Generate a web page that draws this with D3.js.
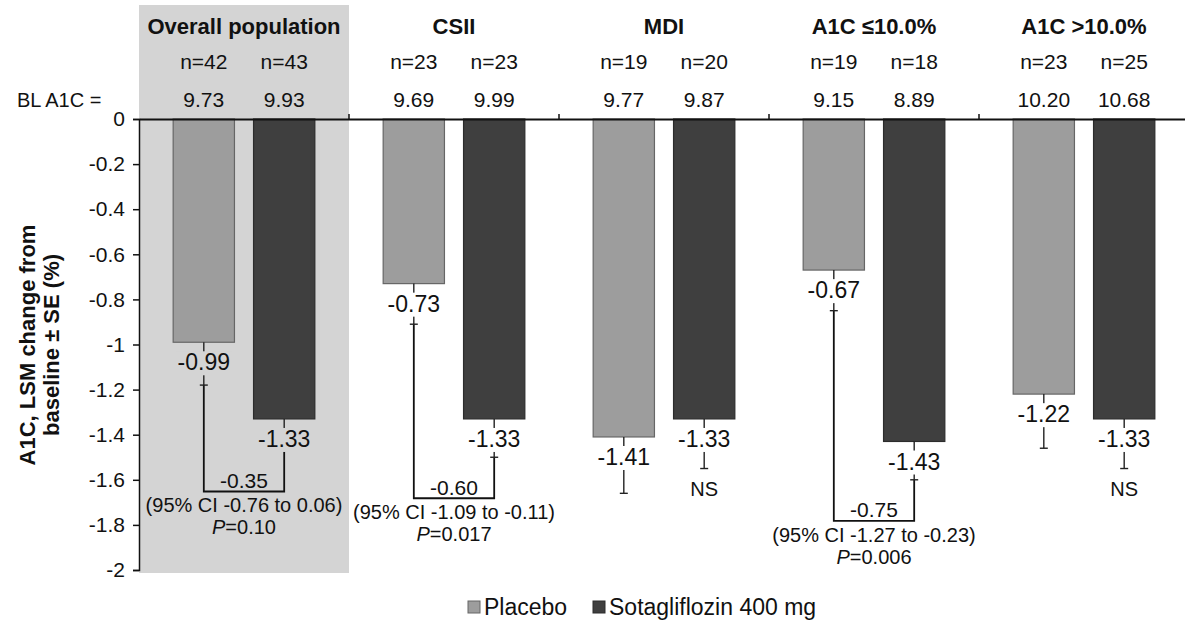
<!DOCTYPE html>
<html>
<head>
<meta charset="utf-8">
<script src="https://cdn.jsdelivr.net/npm/d3@7"></script>
<style>
  body { margin: 0; background: #fff; }
  svg text { font-family: "Liberation Sans", Arial, sans-serif; fill: #111; }
</style>
</head>
<body>
<div id="chart"></div>
<script>
// values
const groups = ["Overall population", "CSII", "MDI", "A1C \u226410.0%", "A1C >10.0%"];
const treatments = ["Placebo", "Sotagliflozin 400 mg"];
const placeboN = [42, 23, 19, 19, 23];
const sotaN = [43, 23, 20, 18, 25];
const placeboBL = ["9.73", "9.69", "9.77", "9.15", "10.20"];
const sotaBL = ["9.93", "9.99", "9.87", "8.89", "10.68"];
const placeboLSM = [-0.99, -0.73, -1.41, -0.67, -1.22];
const sotaLSM = [-1.33, -1.33, -1.33, -1.43, -1.33];
const placeboSE = [0.19, 0.18, 0.25, 0.18, 0.24];
const sotaSE = [0.14, 0.17, 0.22, 0.17, 0.22];
const compGroups = ["Overall population", "CSII", "A1C \u226410.0%"];
const compDiff = ["-0.35", "-0.60", "-0.75"];
const compCI = ["(95% CI -0.76 to 0.06)", "(95% CI -1.09 to -0.11)", "(95% CI -1.27 to -0.23)"];
const compP = ["0.10", "0.017", "0.006"];
const nsGroups = ["MDI", "A1C >10.0%"];
const yTicks = [0, -0.2, -0.4, -0.6, -0.8, -1, -1.2, -1.4, -1.6, -1.8, -2];

const width = 1185, height = 622;
const colors = { "Placebo": "#9d9d9d", "Sotagliflozin 400 mg": "#3f3f3f" };
const strokes = { "Placebo": "#666", "Sotagliflozin 400 mg": "#2c2c2c" };
const panelFill = "#d4d4d4";

const svg = d3.select("#chart").append("svg")
    .attr("width", width)
    .attr("height", height);

const x = d3.scaleBand().domain(groups).range([139, 1189]);
const xInner = d3.scaleBand().domain(treatments).range([0, x.bandwidth()])
    .paddingInner(0.2375).paddingOuter(0.425);
const y = d3.scaleLinear().domain([-2, 0]).range([570, 119]);

// rows: one per bar
const rows = [];
groups.forEach((g, i) => {
    rows.push({ group: g, gi: i, trt: treatments[0], n: placeboN[i], bl: placeboBL[i], v: placeboLSM[i], se: placeboSE[i] });
    rows.push({ group: g, gi: i, trt: treatments[1], n: sotaN[i], bl: sotaBL[i], v: sotaLSM[i], se: sotaSE[i] });
});
const cx = d => x(d.group) + xInner(d.trt) + xInner.bandwidth() / 2;
const bgOf = d => d.gi === 0 ? panelFill : "#fff";

// shaded panel behind the overall population
svg.append("rect")
    .attr("x", x(groups[0]))
    .attr("y", 5)
    .attr("width", x.bandwidth())
    .attr("height", 573 - 5)
    .attr("fill", panelFill);

// group titles
svg.selectAll(".gtitle")
    .data(groups)
    .enter().append("text")
    .attr("x", g => x(g) + x.bandwidth() / 2)
    .attr("y", 26)
    .attr("dy", "0.35em")
    .attr("text-anchor", "middle")
    .attr("font-weight", "bold")
    .attr("font-size", "22px")
    .text(g => g);

svg.selectAll(".nlab")
    .data(rows)
    .enter().append("text")
    .attr("x", cx)
    .attr("y", 62)
    .attr("dy", "0.35em")
    .attr("text-anchor", "middle")
    .attr("font-size", "21px")
    .text(d => "n=" + d.n);

svg.selectAll(".bllab")
    .data(rows)
    .enter().append("text")
    .attr("x", cx)
    .attr("y", 100)
    .attr("dy", "0.35em")
    .attr("text-anchor", "middle")
    .attr("font-size", "21px")
    .text(d => d.bl);

svg.append("text")
    .attr("x", 17)
    .attr("y", 100)
    .attr("dy", "0.35em")
    .attr("font-size", "20px")
    .text("BL A1C =");

// bars
svg.selectAll(".bar")
    .data(rows)
    .enter().append("rect")
    .attr("x", d => x(d.group) + xInner(d.trt))
    .attr("y", y(0))
    .attr("width", xInner.bandwidth())
    .attr("height", d => y(d.v) - y(0))
    .attr("fill", d => colors[d.trt])
    .attr("stroke", d => strokes[d.trt])
    .attr("stroke-width", 1.2);

// comparison brackets (drawn before labels so labels sit on top)
const comps = compGroups.map((g, i) => {
    const pl = rows.find(r => r.group === g && r.trt === treatments[0]);
    const so = rows.find(r => r.group === g && r.trt === treatments[1]);
    const low = Math.min(pl.v - pl.se, so.v - so.se);
    return { pl, so, by: y(low) + 41, diff: compDiff[i], ci: compCI[i], p: compP[i] };
});

svg.selectAll(".bracket")
    .data(comps)
    .enter().append("path")
    .attr("fill", "none")
    .attr("stroke", "#111")
    .attr("stroke-width", 1.8)
    .attr("d", c => "M" + cx(c.pl) + "," + y(c.pl.v - c.pl.se) + "V" + c.by +
        "H" + cx(c.so) + "V" + y(c.so.v - c.so.se));

// error bars
const eb = svg.selectAll(".err")
    .data(rows)
    .enter().append("g");
eb.append("line")
    .attr("x1", cx).attr("x2", cx)
    .attr("y1", d => y(d.v)).attr("y2", d => y(d.v - d.se))
    .attr("stroke", "#222").attr("stroke-width", 1.4);
eb.append("line")
    .attr("x1", d => cx(d) - 4).attr("x2", d => cx(d) + 4)
    .attr("y1", d => y(d.v - d.se)).attr("y2", d => y(d.v - d.se))
    .attr("stroke", "#222").attr("stroke-width", 1.4);

// value labels with a background box that hides the error bar behind them
const vl = svg.selectAll(".vlab")
    .data(rows)
    .enter().append("g");
vl.append("rect").attr("class", "bg");
vl.append("text")
    .attr("x", cx)
    .attr("y", d => y(d.v) + 20)
    .attr("dy", "0.35em")
    .attr("text-anchor", "middle")
    .attr("font-size", "23px")
    .text(d => d.v.toFixed(2));
vl.each(function (d) {
    const b = d3.select(this).select("text").node().getBBox();
    d3.select(this).select("rect")
        .attr("x", b.x - 2).attr("y", b.y + 2)
        .attr("width", b.width + 4).attr("height", b.height - 2)
        .attr("fill", bgOf(d));
});

// bracket texts
const ct = svg.selectAll(".ctext")
    .data(comps)
    .enter().append("g");
ct.append("text")
    .attr("x", c => (cx(c.pl) + cx(c.so)) / 2)
    .attr("y", c => c.by - 11)
    .attr("dy", "0.35em")
    .attr("text-anchor", "middle")
    .attr("font-size", "21px")
    .text(c => c.diff);
ct.append("text")
    .attr("x", c => (cx(c.pl) + cx(c.so)) / 2)
    .attr("y", c => c.by + 14)
    .attr("dy", "0.35em")
    .attr("text-anchor", "middle")
    .attr("font-size", "20px")
    .text(c => c.ci);
const pt = ct.append("text")
    .attr("x", c => (cx(c.pl) + cx(c.so)) / 2)
    .attr("y", c => c.by + 36)
    .attr("dy", "0.35em")
    .attr("text-anchor", "middle")
    .attr("font-size", "20px");
pt.append("tspan").attr("font-style", "italic").text("P");
pt.append("tspan").text(c => "=" + c.p);

// NS marks
svg.selectAll(".ns")
    .data(rows.filter(r => nsGroups.includes(r.group) && r.trt === treatments[1]))
    .enter().append("text")
    .attr("x", cx)
    .attr("y", d => y(d.v - d.se) + 20)
    .attr("dy", "0.35em")
    .attr("text-anchor", "middle")
    .attr("font-size", "20px")
    .text("NS");

// axes
const yAxis = svg.append("g")
    .attr("transform", "translate(" + 139 + ",0)")
    .call(d3.axisLeft(y).tickValues(yTicks).tickSize(6).tickPadding(8)
        .tickFormat(d => String(+d.toFixed(1))));
yAxis.select(".domain").attr("stroke", "#111").attr("stroke-width", 1.5);
yAxis.selectAll(".tick line").attr("stroke", "#111").attr("stroke-width", 1.5);
yAxis.selectAll(".tick text")
    .attr("font-size", "21px")
    .attr("font-family", "Liberation Sans, Arial, sans-serif")
    .attr("fill", "#111");

const xAxis = svg.append("g")
    .attr("transform", "translate(0," + y(0) + ")")
    .call(d3.axisTop(x).tickValues([]).tickSizeOuter(0));
xAxis.select(".domain").attr("stroke", "#111").attr("stroke-width", 2);
xAxis.selectAll(".gb")
    .data(groups.slice(1))
    .enter().append("line")
    .attr("x1", g => x(g)).attr("x2", g => x(g))
    .attr("y1", 0).attr("y2", -5)
    .attr("stroke", "#111").attr("stroke-width", 1.5);

// y title
const yt = svg.append("text")
    .attr("transform", "translate(27,345) rotate(-90)")
    .attr("text-anchor", "middle")
    .attr("font-weight", "bold")
    .attr("font-size", "22px");
yt.append("tspan").attr("x", 0).attr("dy", "0.35em").text("A1C, LSM change from");
yt.append("tspan").attr("x", 0).attr("dy", "1.1em").text("baseline \u00b1 SE (%)");

// legend
const leg = svg.append("g").attr("transform", "translate(468,607)");
const legX = d3.scaleOrdinal().domain(treatments).range([0, 125]);
const li = leg.selectAll(".li")
    .data(treatments)
    .enter().append("g")
    .attr("transform", t => "translate(" + legX(t) + ",0)");
li.append("rect")
    .attr("x", 0).attr("y", -6)
    .attr("width", 12).attr("height", 12)
    .attr("fill", t => colors[t])
    .attr("stroke", t => strokes[t]);
li.append("text")
    .attr("x", 16)
    .attr("dy", "0.35em")
    .attr("font-size", "23px")
    .text(t => t);
</script>
</body>
</html>
